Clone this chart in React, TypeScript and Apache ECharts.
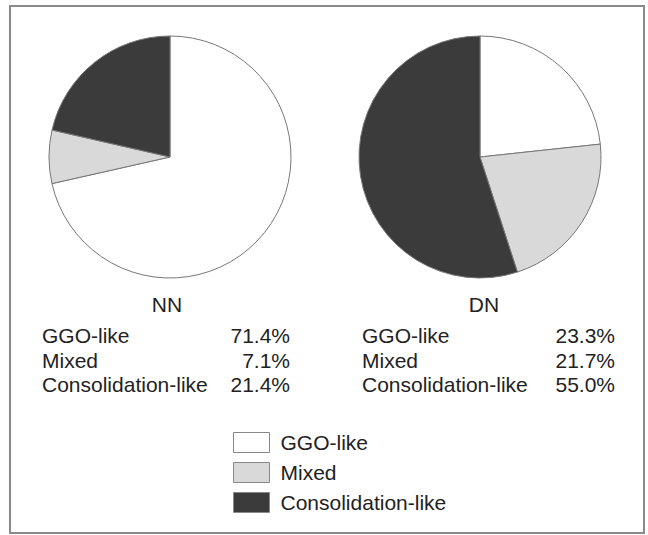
import React, { useEffect, useRef } from "react";
import * as echarts from "echarts";

const categories = ["GGO-like", "Mixed", "Consolidation-like"];
const groups = ["NN", "DN"];
const nnValues = [71.4, 7.1, 21.4];
const dnValues = [23.3, 21.7, 55.0];
const sliceColors = ["#ffffff", "#d9d9d9", "#3b3b3b"];

const FONT = "'Liberation Sans', Arial, Helvetica, sans-serif";

export default function App() {
  const ref = useRef<HTMLDivElement>(null);
  useEffect(() => {
    if (!ref.current) return;
    const chart = echarts.init(ref.current, null, { renderer: "svg" });
    const valuesByGroup = [nnValues, dnValues];
    const centers = [170, 480];
    const titleX = [167, 484];
    const labelLeft = [42, 362];
    const pctRight = [290, 615];
    const rowY = [335, 360, 384];

    const graphics: any[] = [
      {
        type: "rect",
        shape: { x: 10, y: 6, width: 634, height: 527 },
        style: { fill: "none", stroke: "#8a8a8a", lineWidth: 2 },
        silent: true,
      },
    ];
    groups.forEach((g, gi) => {
      graphics.push({
        type: "text",
        x: titleX[gi],
        y: 304,
        style: {
          text: g,
          font: `21px ${FONT}`,
          fill: "#222",
          textAlign: "center",
          textVerticalAlign: "middle",
        },
      });
      categories.forEach((c, ci) => {
        graphics.push({
          type: "text",
          x: labelLeft[gi],
          y: rowY[ci],
          style: {
            text: c,
            font: `21px ${FONT}`,
            fill: "#222",
            textAlign: "left",
            textVerticalAlign: "middle",
          },
        });
        graphics.push({
          type: "text",
          x: pctRight[gi],
          y: rowY[ci],
          style: {
            text: valuesByGroup[gi][ci].toFixed(1) + "%",
            font: `21px ${FONT}`,
            fill: "#222",
            textAlign: "right",
            textVerticalAlign: "middle",
          },
        });
      });
    });

    const makeSeries = (name: string, values: number[], cx: number) => ({
      type: "pie",
      name,
      center: [cx, 157],
      radius: [0, 121],
      startAngle: 90,
      clockwise: true,
      label: { show: false },
      labelLine: { show: false },
      emphasis: { disabled: true },
      itemStyle: { borderColor: "#777", borderWidth: 1 },
      data: categories.map((c, i) => ({
        name: c,
        value: values[i],
        itemStyle: { color: sliceColors[i] },
      })),
    });

    chart.setOption({
      animation: false,
      backgroundColor: "#ffffff",
      legend: {
        orient: "vertical",
        left: 233,
        top: 432,
        padding: 0,
        itemWidth: 36,
        itemHeight: 20,
        itemGap: 9,
        icon: "rect",
        data: categories,
        textStyle: { fontSize: 21, fontFamily: FONT, color: "#222", padding: [0, 0, 0, 6] },
        itemStyle: { borderColor: "#888", borderWidth: 1 },
        selectedMode: false,
      },
      series: [
        makeSeries(groups[0], nnValues, centers[0]),
        makeSeries(groups[1], dnValues, centers[1]),
      ],
      graphic: graphics,
    });
    return () => chart.dispose();
  }, []);
  return (
    <div
      ref={ref}
      style={{ position: "fixed", left: 0, top: 0, width: 648, height: 535, background: "#fff" }}
    />
  );
}
